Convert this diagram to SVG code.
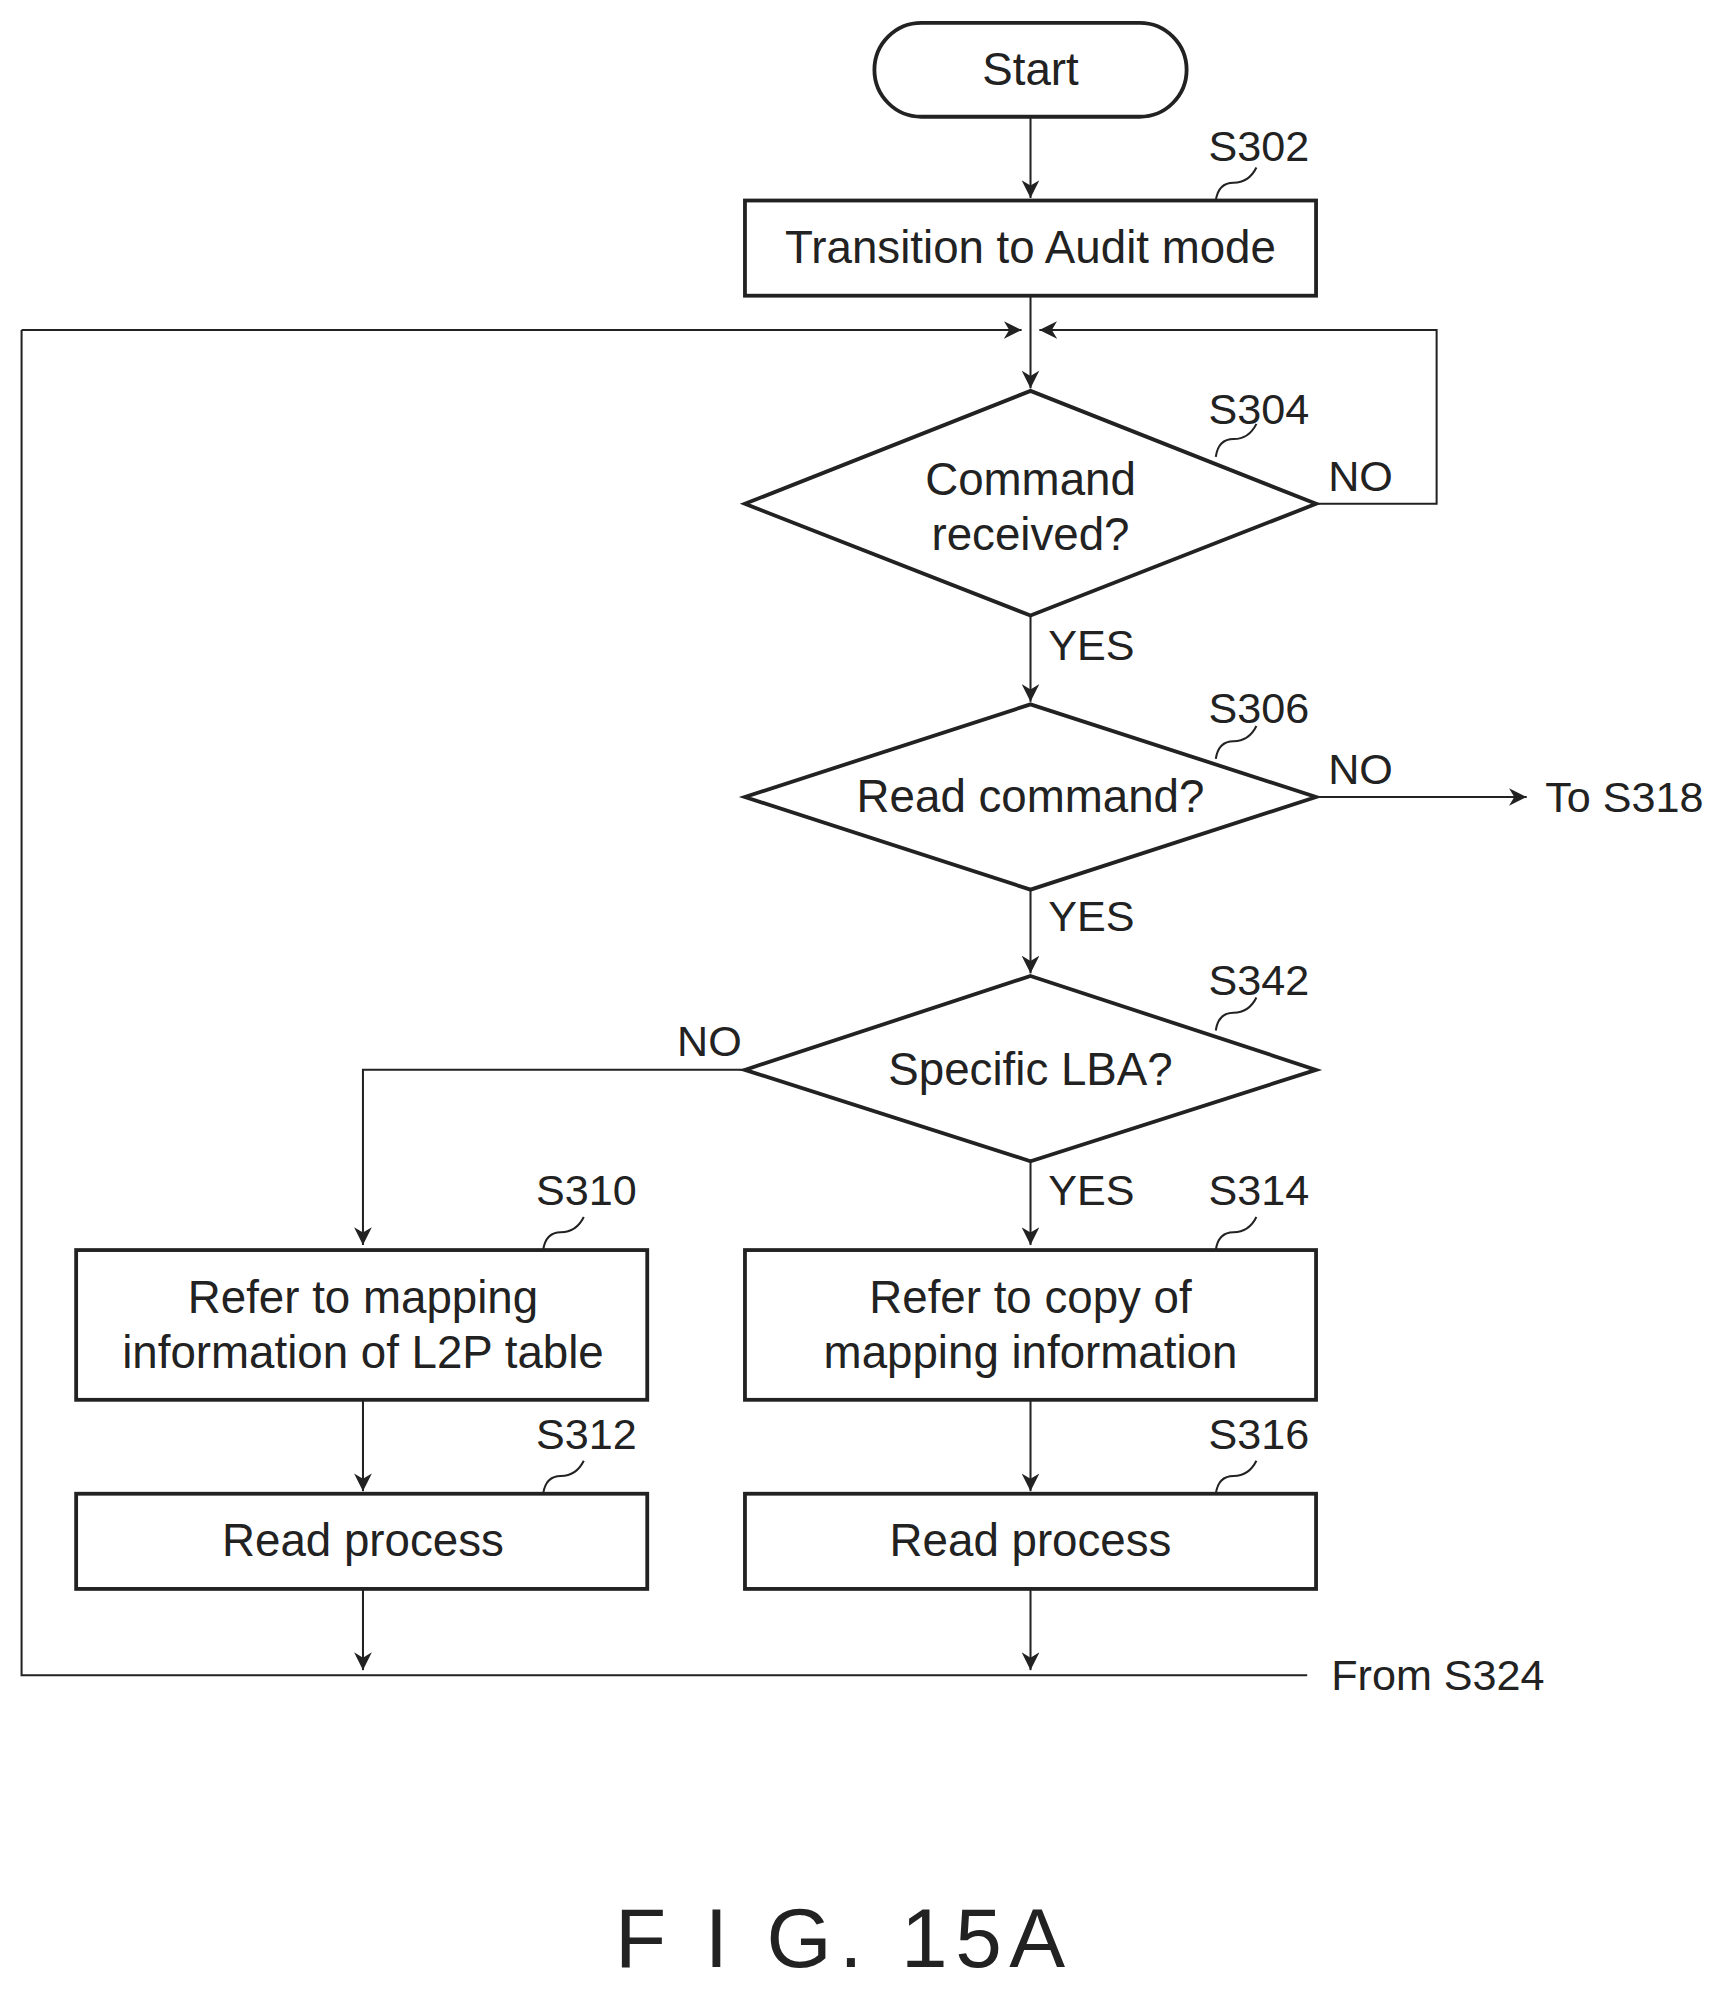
<svg xmlns="http://www.w3.org/2000/svg" width="1726" height="1990" viewBox="0 0 1726 1990">
<style>
.s{fill:#fff;stroke:#222;stroke-width:3}
.c{fill:none;stroke:#222;stroke-width:1.6}
.t{font-family:"Liberation Sans",Arial,sans-serif;font-size:36px;fill:#222;text-anchor:middle;dominant-baseline:central}
.l{font-family:"Liberation Sans",Arial,sans-serif;font-size:34px;fill:#222;text-anchor:middle;dominant-baseline:central}
</style>
<defs><marker id="a" viewBox="0 0 10 10" refX="10" refY="5" markerWidth="14" markerHeight="14" markerUnits="userSpaceOnUse" orient="auto"><path d="M0,0 L10,5 L0,10 L3,5 Z" fill="#222"/></marker></defs>
<rect width="1726" height="1990" fill="#fff"/>
<g transform="scale(1.2691)">
<g id="connectors">
<path class="c" d="M812,92 V156" marker-end="url(#a)"/>
<path class="c" d="M812,233 V306" marker-end="url(#a)"/>
<path class="c" d="M17,260 H805" marker-end="url(#a)"/>
<path class="c" d="M1037,397 H1132 V260 H819" marker-end="url(#a)"/>
<path class="c" d="M812,485 V553" marker-end="url(#a)"/>
<path class="c" d="M1037,628 H1203" marker-end="url(#a)"/>
<path class="c" d="M812,701 V767" marker-end="url(#a)"/>
<path class="c" d="M587,843 H286 V981" marker-end="url(#a)"/>
<path class="c" d="M812,915 V981" marker-end="url(#a)"/>
<path class="c" d="M286,1103 V1175" marker-end="url(#a)"/>
<path class="c" d="M812,1103 V1175" marker-end="url(#a)"/>
<path class="c" d="M286,1252 V1316" marker-end="url(#a)"/>
<path class="c" d="M812,1252 V1316" marker-end="url(#a)"/>
<path class="c" d="M1030,1320 H17 V260"/>
<path class="c" d="M958,158 q2,-14 14,-14 q12,0 18,-12"/>
<path class="c" d="M958,360 q2,-14 14,-14 q12,0 18,-12"/>
<path class="c" d="M958,598 q2,-14 14,-14 q12,0 18,-12"/>
<path class="c" d="M958,812 q2,-14 14,-14 q12,0 18,-12"/>
<path class="c" d="M428,985 q2,-14 14,-14 q12,0 18,-12"/>
<path class="c" d="M428,1177 q2,-14 14,-14 q12,0 18,-12"/>
<path class="c" d="M958,985 q2,-14 14,-14 q12,0 18,-12"/>
<path class="c" d="M958,1177 q2,-14 14,-14 q12,0 18,-12"/>
<text class="l" x="860" y="508">YES</text>
<text class="l" x="860" y="722">YES</text>
<text class="l" x="860" y="938">YES</text>
<text class="l" x="1072" y="375">NO</text>
<text class="l" x="1072" y="606">NO</text>
<text class="l" x="559" y="820">NO</text>
<text class="l" x="1280" y="628">To S318</text>
<text class="l" x="1133" y="1320">From S324</text>
</g>
<g id="start"><rect class="s" x="689" y="18" width="246" height="74" rx="37"/><text class="t" x="812" y="55">Start</text></g>
<g id="S302"><rect class="s" x="587" y="158" width="450" height="75"/><text class="t" x="812" y="195">Transition to Audit mode</text><text class="l" x="992" y="115">S302</text></g>
<g id="S304"><polygon class="s" points="812,308 1037,397 812,485 587,397"/><text class="t" x="812" y="378">Command</text><text class="t" x="812" y="421">received?</text><text class="l" x="992" y="322">S304</text></g>
<g id="S306"><polygon class="s" points="812,555 1037,628 812,701 587,628"/><text class="t" x="812" y="628">Read command?</text><text class="l" x="992" y="558">S306</text></g>
<g id="S342"><polygon class="s" points="812,769 1037,843 812,915 587,843"/><text class="t" x="812" y="843">Specific LBA?</text><text class="l" x="992" y="772">S342</text></g>
<g id="S310"><rect class="s" x="60" y="985" width="450" height="118"/><text class="t" x="286" y="1022">Refer to mapping</text><text class="t" x="286" y="1066">information of L2P table</text><text class="l" x="462" y="938">S310</text></g>
<g id="S314"><rect class="s" x="587" y="985" width="450" height="118"/><text class="t" x="812" y="1022">Refer to copy of</text><text class="t" x="812" y="1066">mapping information</text><text class="l" x="992" y="938">S314</text></g>
<g id="S312"><rect class="s" x="60" y="1177" width="450" height="75"/><text class="t" x="286" y="1214">Read process</text><text class="l" x="462" y="1130">S312</text></g>
<g id="S316"><rect class="s" x="587" y="1177" width="450" height="75"/><text class="t" x="812" y="1214">Read process</text><text class="l" x="992" y="1130">S316</text></g>
<text class="t" x="665" y="1527" style="font-size:66px;letter-spacing:6px">F I G. 15A</text>
</g>
</svg>
